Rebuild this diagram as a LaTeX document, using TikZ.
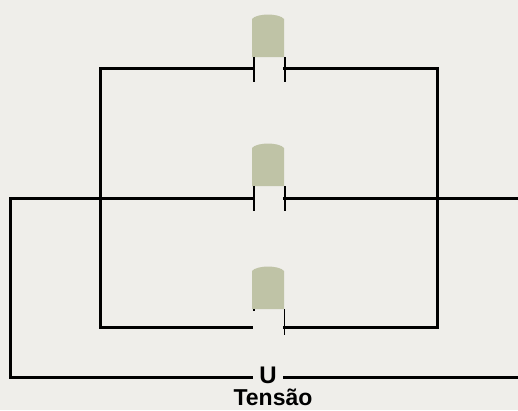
\documentclass[tikz,border=0pt]{standalone}
\usepackage{fontspec}
\setmainfont{Liberation Sans}
\definecolor{paper}{HTML}{EFEEEA}
\definecolor{bulb}{HTML}{BFC3A6}
\tikzset{wire/.style={line width=3pt,line cap=butt,line join=miter},
	plate/.style={line width=2pt},
	label/.style={inner sep=0pt,anchor=base}}
\begin{document}
\begin{tikzpicture}[x=1pt,y=-1pt]
	\useasboundingbox (0,0) rectangle (518,410);
	\fill[paper] (0,0) rectangle (518,410);
	% bulbs above the gaps
	\foreach \y in {57,186,309}
	{
		\fill[bulb] (252,\y) -- (252,\y-38) .. controls (254,\y-41) and (262,\y-42.5) .. (268,\y-42.5) .. controls (274,\y-42.5) and (282,\y-41) .. (284,\y-38) -- (284,\y) -- cycle;
	}
	% plates
	\coordinate (a1) at (254,57);
	\coordinate (a2) at (254,82);
	\coordinate (b1) at (284.5,57);
	\coordinate (b2) at (284.5,82);
	\coordinate (c1) at (254,186);
	\coordinate (c2) at (254,211);
	\coordinate (d1) at (284.5,186);
	\coordinate (d2) at (284.5,211);
	\coordinate (e1) at (254,309);
	\coordinate (e2) at (254,310.5);
	\coordinate (f1) at (284.5,309);
	\coordinate (f2) at (284.5,335);
	\draw[plate] (a1) -- (a2);
	\draw[plate] (b1) -- (b2);
	\draw[plate] (c1) -- (c2);
	\draw[plate] (d1) -- (d2);
	\draw[plate,line width=1.2pt] (e1) -- (e2);
	\draw[plate,line width=1.2pt] (f1) -- (f2);
	% wires
	\coordinate (tl) at (253,68);
	\coordinate (tr) at (283,68);
	\coordinate (ml) at (253,198);
	\coordinate (mr) at (283,198);
	\coordinate (bl) at (253,327);
	\coordinate (br) at (283,327);
	\coordinate (ul) at (253,377);
	\coordinate (ur) at (283,377);
	\coordinate (out) at (518,198);
	\coordinate (outb) at (518,377);
	\node[label,font=\bfseries\fontsize{24}{24}\selectfont] (u) at (268,383) {U};
	\node[label,font=\bfseries\fontsize{23}{23}\selectfont] (tensao) at (273,405) {Tensão};
	\draw[wire] (tl) -| (100,327) -- (bl);
	\draw[wire] (tr) -| (437,327) -- (br);
	\draw[wire] (ml) -- (10,198) |- (ul);
	\draw[wire] (mr) -- (out);
	\draw[wire] (ur) -- (outb);
\end{tikzpicture}
\end{document}
